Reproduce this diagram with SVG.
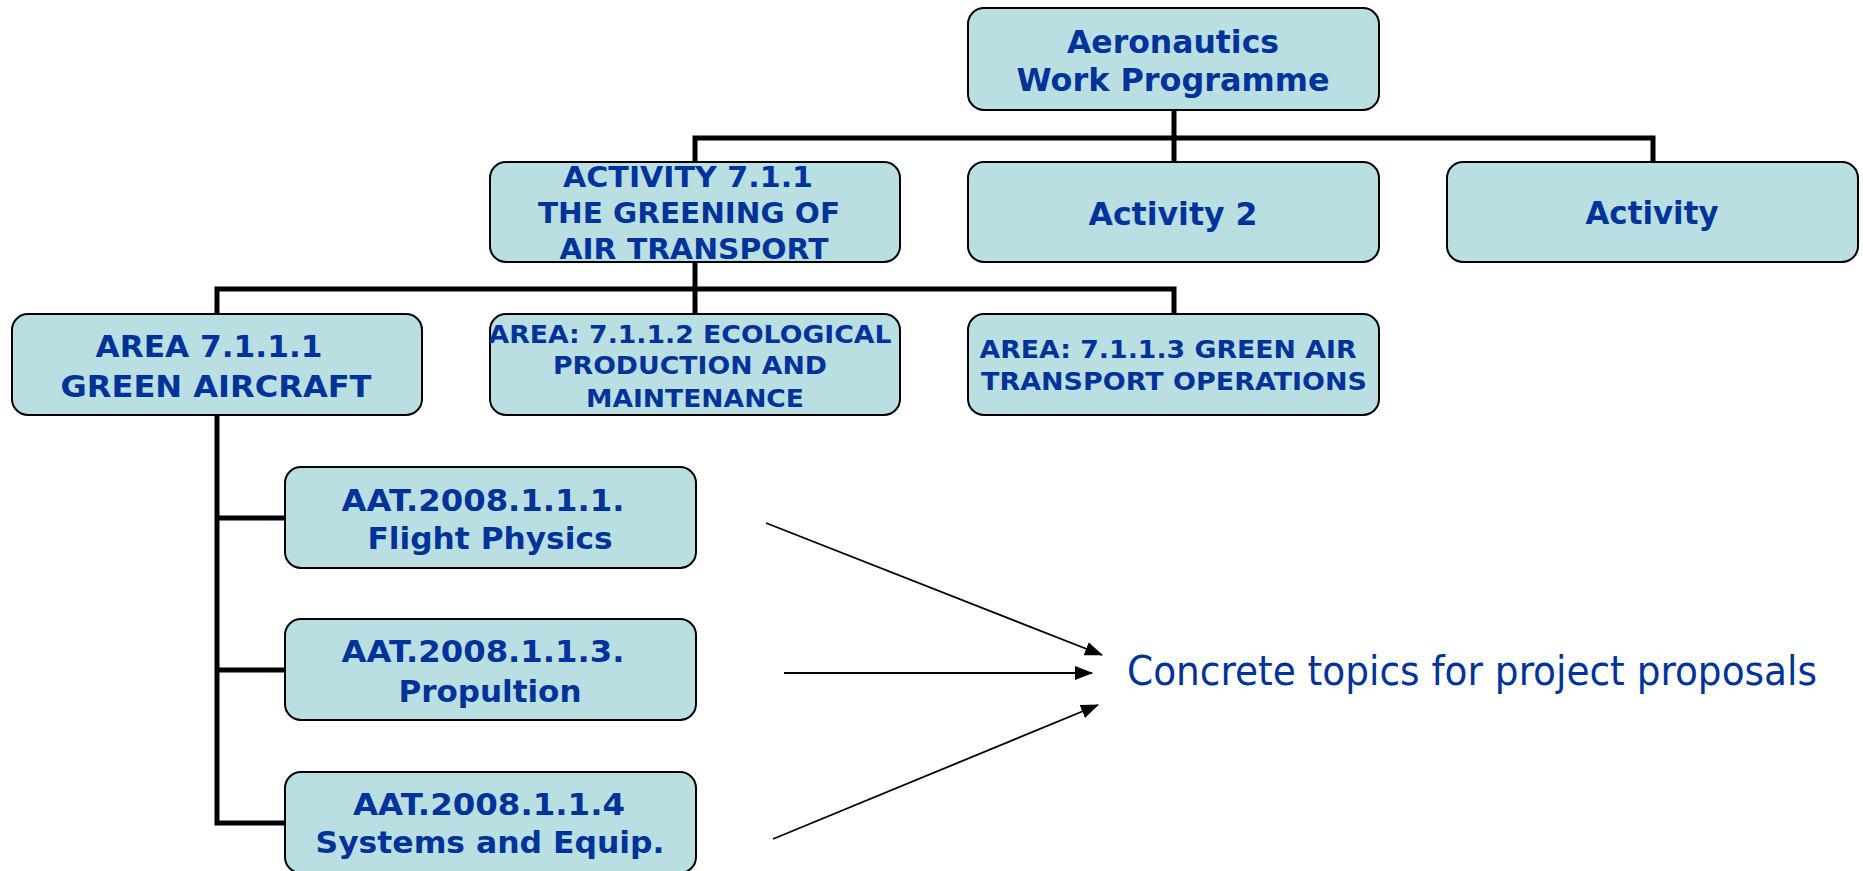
<svg xmlns="http://www.w3.org/2000/svg" width="1863" height="871" viewBox="0 0 1863 871">
<style>
.box{fill:#BADFE2;stroke:#000;stroke-width:2}
.t{font-family:"DejaVu Sans","Liberation Sans",sans-serif;font-weight:bold;fill:#003399;text-anchor:middle}
.c{fill:none;stroke:#000;stroke-width:5;stroke-linecap:square}
.a{fill:none;stroke:#000;stroke-width:1.8}
</style>
<defs>
<marker id="ah" viewBox="0 0 18 14" refX="17" refY="7" markerWidth="18" markerHeight="14" markerUnits="userSpaceOnUse" orient="auto">
<path d="M0,0 L18,7 L0,14 Z" fill="#000"/>
</marker>
</defs>
<rect width="1863" height="871" fill="#fff"/>
<g id="connectors">
<path class="c" d="M1174,110 V162 M695,138 H1653 M695,138 V162 M1653,138 V162"/>
<path class="c" d="M695,262 V314 M217,289 H1174 M217,289 V314 M1174,289 V314"/>
<path class="c" d="M217,415 V823 M217,518 H285 M217,670 H285 M217,823 H285"/>
<line class="a" x1="766" y1="523" x2="1102" y2="655" marker-end="url(#ah)"/>
<line class="a" x1="784" y1="673" x2="1092" y2="673" marker-end="url(#ah)"/>
<line class="a" x1="773" y1="839" x2="1098" y2="705" marker-end="url(#ah)"/>
</g>
<g id="n-aero">
<rect class="box" x="968" y="8" width="411" height="102" rx="16"/>
<text class="t" font-size="32" x="1173" y="53" textLength="212" lengthAdjust="spacingAndGlyphs">Aeronautics</text>
<text class="t" font-size="32" x="1173" y="91" textLength="313" lengthAdjust="spacingAndGlyphs">Work Programme</text>
</g>
<g id="n-act711">
<rect class="box" x="490" y="162" width="410" height="100" rx="16"/>
<text class="t" font-size="28" x="688" y="187" textLength="250" lengthAdjust="spacingAndGlyphs">ACTIVITY 7.1.1</text>
<text class="t" font-size="28" x="689" y="223" textLength="302" lengthAdjust="spacingAndGlyphs">THE GREENING OF</text>
<text class="t" font-size="28" x="694" y="259" textLength="269" lengthAdjust="spacingAndGlyphs">AIR TRANSPORT</text>
</g>
<g id="n-act2">
<rect class="box" x="968" y="162" width="411" height="100" rx="16"/>
<text class="t" font-size="32" x="1173" y="225" textLength="169" lengthAdjust="spacingAndGlyphs">Activity 2</text>
</g>
<g id="n-act">
<rect class="box" x="1447" y="162" width="411" height="100" rx="16"/>
<text class="t" font-size="32" x="1652" y="224" textLength="133" lengthAdjust="spacingAndGlyphs">Activity</text>
</g>
<g id="n-area1">
<rect class="box" x="12" y="314" width="410" height="101" rx="16"/>
<text class="t" font-size="30" x="209" y="357" textLength="227" lengthAdjust="spacingAndGlyphs">AREA 7.1.1.1</text>
<text class="t" font-size="30" x="216" y="397" textLength="311" lengthAdjust="spacingAndGlyphs">GREEN AIRCRAFT</text>
</g>
<g id="n-area2">
<rect class="box" x="490" y="314" width="410" height="101" rx="16"/>
<text class="t" font-size="25" x="690" y="343" textLength="403" lengthAdjust="spacingAndGlyphs">AREA: 7.1.1.2 ECOLOGICAL</text>
<text class="t" font-size="25" x="690" y="374" textLength="274" lengthAdjust="spacingAndGlyphs">PRODUCTION AND</text>
<text class="t" font-size="25" x="695" y="407" textLength="218" lengthAdjust="spacingAndGlyphs">MAINTENANCE</text>
</g>
<g id="n-area3">
<rect class="box" x="968" y="314" width="411" height="101" rx="16"/>
<text class="t" font-size="25" x="1168" y="358" textLength="377" lengthAdjust="spacingAndGlyphs">AREA: 7.1.1.3 GREEN AIR</text>
<text class="t" font-size="25" x="1174" y="390" textLength="386" lengthAdjust="spacingAndGlyphs">TRANSPORT OPERATIONS</text>
</g>
<g id="n-aat1">
<rect class="box" x="285" y="467" width="411" height="101" rx="16"/>
<text class="t" font-size="31" x="483" y="511" textLength="283" lengthAdjust="spacingAndGlyphs">AAT.2008.1.1.1.</text>
<text class="t" font-size="31" x="490" y="549" textLength="245" lengthAdjust="spacingAndGlyphs">Flight Physics</text>
</g>
<g id="n-aat3">
<rect class="box" x="285" y="619" width="411" height="101" rx="16"/>
<text class="t" font-size="31" x="483" y="662" textLength="283" lengthAdjust="spacingAndGlyphs">AAT.2008.1.1.3.</text>
<text class="t" font-size="31" x="490" y="702" textLength="183" lengthAdjust="spacingAndGlyphs">Propultion</text>
</g>
<g id="n-aat4">
<rect class="box" x="285" y="772" width="411" height="101" rx="16"/>
<text class="t" font-size="31" x="489" y="815" textLength="272" lengthAdjust="spacingAndGlyphs">AAT.2008.1.1.4</text>
<text class="t" font-size="31" x="490" y="853" textLength="349" lengthAdjust="spacingAndGlyphs">Systems and Equip.</text>
</g>
<g id="n-concrete">
<text x="1127" y="685" font-family="'DejaVu Sans Condensed','DejaVu Sans',sans-serif" font-size="40" fill="#003399" textLength="690" lengthAdjust="spacingAndGlyphs">Concrete topics for project proposals</text>
</g>
</svg>
